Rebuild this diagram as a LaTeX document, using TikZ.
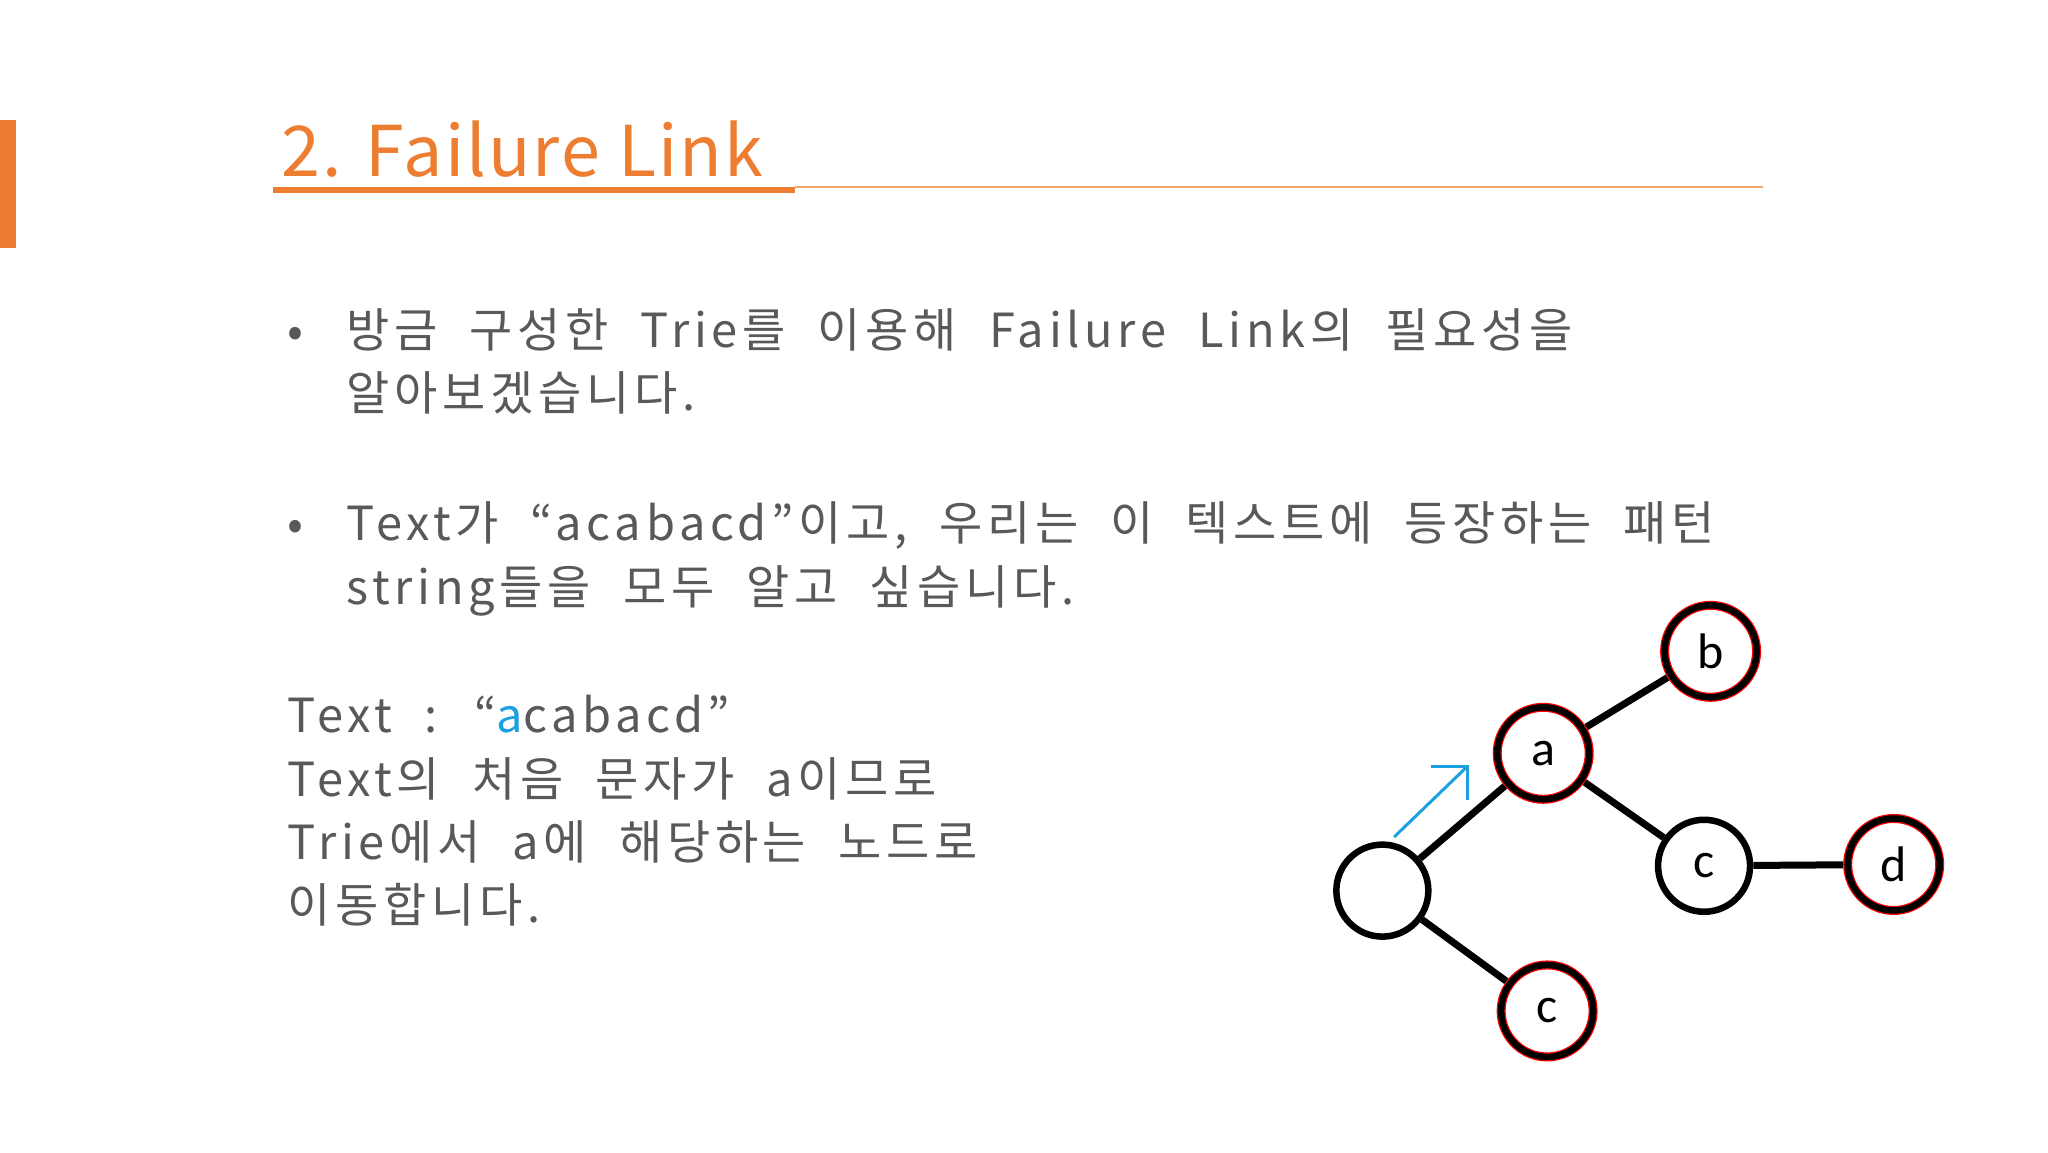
\documentclass[tikz,border=0pt]{standalone}
\usepackage{fontspec}
\setmainfont{Carlito}
\newfontfamily\kr{Noto Sans CJK KR}[LetterSpace=10,WordSpace=2.1]
\newfontfamily\krt{Noto Sans CJK KR}[LetterSpace=3]
\definecolor{orn}{HTML}{ED7D31}
\definecolor{ornl}{HTML}{F0A868}
\definecolor{txt}{HTML}{595959}
\definecolor{blu}{HTML}{1BA1E2}
\begin{document}
\begin{tikzpicture}[x=1.3078pt,y=-1.3078pt,
 nd/.style={circle,draw=black,line width=6.5pt,minimum size=92pt,inner sep=0pt,font=\fontsize{50}{50}\selectfont},
 ln/.style={line width=7pt},
 body/.style={anchor=base west,text=txt,font=\kr\fontsize{47}{63}\selectfont,inner sep=0pt}]
\useasboundingbox (0,0) rectangle (1566,881);
\fill[orn] (0,92) rectangle (12,190);
\node[anchor=base west,text=orn,font=\krt\fontsize{70}{70}\selectfont,inner sep=0pt] (title) at (215,135) {2. Failure Link};
\draw[orn,line width=6pt] (209,145) -- (608,145);
\draw[ornl,line width=1.5pt] (608,143) -- (1348,143);
\node[body] (b1) at (220,266) {•};
\node[body] (l1) at (265,266) {방금 구성한 Trie를 이용해 Failure Link의 필요성을};
\node[body] (l2) at (265,314) {알아보겠습니다.};
\node[body] (b2) at (220,413) {•};
\node[body] (l3) at (265,413) {Text가 “acabacd”이고, 우리는 이 텍스트에 등장하는 패턴};
\node[body] (l4) at (265,462) {string들을 모두 알고 싶습니다.};
\node[body] (t1) at (220,560) {Text : “\textcolor{blu}{a}cabacd”};
\node[body] (t2) at (220,609) {Text의 처음 문자가 a이므로};
\node[body] (t3) at (220,657) {Trie에서 a에 해당하는 노드로};
\node[body] (t4) at (220,705) {이동합니다.};
\node[nd] (r) at (1057,681) {};
\node[nd,draw=red,line width=9pt] (a0) at (1180,576) {};
\node[nd] (a) at (1180,576) {a};
\node[nd,draw=red,line width=9pt] (b0) at (1308,498) {};
\node[nd] (b) at (1308,498) {b};
\node[nd] (c1) at (1303,662) {c};
\node[nd,draw=red,line width=9pt] (d0) at (1448,661) {};
\node[nd] (d) at (1448,661) {d};
\node[nd,draw=red,line width=9pt] (c20) at (1183,773) {};
\node[nd] (c2) at (1183,773) {c};
\draw[ln] (r) -- (a0); \draw[ln] (a0) -- (b0); \draw[ln] (a0) -- (c1);
\draw[ln] (c1) -- (d0); \draw[ln] (r) -- (c20);
\coordinate (s) at (1066,640); \coordinate (e) at (1122,586);
\draw[blu,line width=3pt] (s) -- (e);
\draw[blu,line width=3pt] (1094,586) -- (e) -- (1122,612);
\end{tikzpicture}
\end{document}
